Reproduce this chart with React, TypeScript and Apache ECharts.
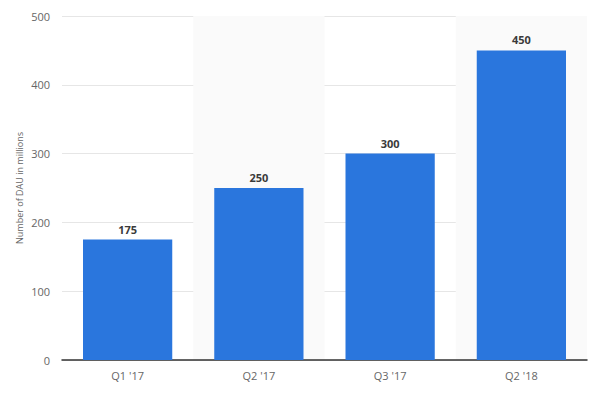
import React, { useEffect, useRef } from "react";
import * as echarts from "echarts";

const categories = ["Q1 '17", "Q2 '17", "Q3 '17", "Q2 '18"];
const values = [175, 250, 300, 450];
const yTitle = "Number of DAU in millions";

export default function App() {
  const ref = useRef<HTMLDivElement>(null);
  useEffect(() => {
    const chart = echarts.init(ref.current!, null, { renderer: "svg" });
    chart.setOption({
      animation: false,
      backgroundColor: "#ffffff",
      grid: { left: 62, right: 19, top: 16, bottom: 35 },
      xAxis: {
        type: "category",
        data: categories,
        axisLine: { lineStyle: { color: "#333333", width: 1.5 } },
        axisTick: { show: false },
        axisLabel: { color: "#666666", fontSize: 11, fontFamily: "Open Sans", margin: 10 },
        splitArea: { show: true, interval: 0, areaStyle: { color: ["rgba(255,255,255,0)", "#fafafa"] } },
      },
      yAxis: {
        type: "value",
        min: 0,
        max: 500,
        interval: 100,
        name: yTitle,
        nameLocation: "middle",
        nameGap: 38,
        nameMoveOverlap: false,
        nameTextStyle: { color: "#666666", fontSize: 9, fontFamily: "Open Sans" },
        axisLine: { show: false },
        axisTick: { show: false },
        axisLabel: { color: "#666666", fontSize: 11, fontFamily: "Open Sans", margin: 12 },
        splitLine: { lineStyle: { color: "#e6e6e6", width: 1 } },
      },
      series: [
        {
          type: "bar",
          data: values,
          barWidth: "68%",
          itemStyle: { color: "#2a76dd" },
          label: {
            show: true,
            position: "top",
            distance: 5,
            color: "#3a3a3a",
            fontWeight: "bold",
            fontSize: 11,
            fontFamily: "Open Sans",
          },
        },
      ],
    });
    return () => chart.dispose();
  }, []);
  return (
    <div
      ref={ref}
      style={{ position: "absolute", left: 0, top: 0, width: 606, height: 395 }}
    />
  );
}
